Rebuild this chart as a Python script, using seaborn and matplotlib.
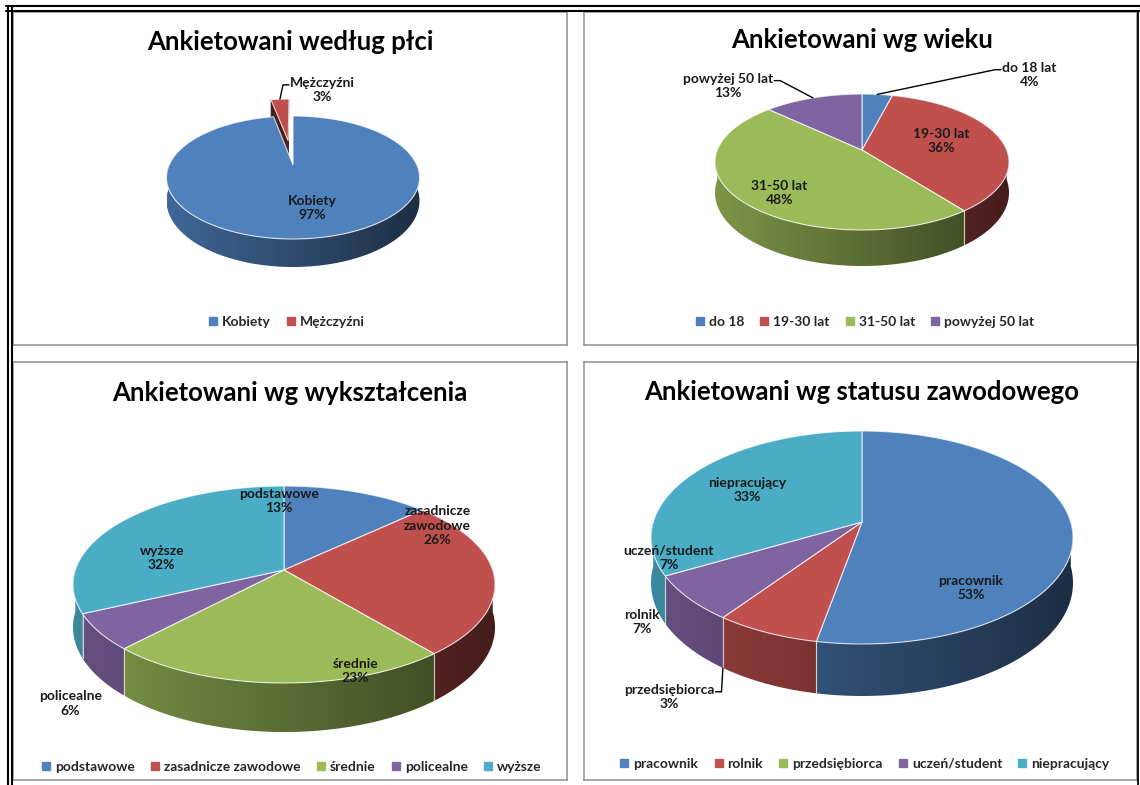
import numpy as np
import matplotlib
matplotlib.use("Agg")
import matplotlib.pyplot as plt
import seaborn as sns
from matplotlib.patches import Polygon
from matplotlib.lines import Line2D

# ---- data ----
gender_names = ["Kobiety", "Mężczyźni"]
gender_pct = [97, 3]

age_legend = ["do 18", "19-30 lat", "31-50 lat", "powyżej 50 lat"]
age_names = ["do 18 lat", "19-30 lat", "31-50 lat", "powyżej 50 lat"]
age_pct = [4, 36, 48, 13]

edu_names = ["podstawowe", "zasadnicze zawodowe", "średnie", "policealne", "wyższe"]
edu_pct = [13, 26, 23, 6, 32]

status_names = ["pracownik", "rolnik", "przedsiębiorca", "uczeń/student", "niepracujący"]
status_pct = [53, 7, 3, 7, 33]        # printed on the labels
status_slices = [53, 7, 0, 7, 33]     # slice widths as drawn (no green wedge visible)

sns.set_theme(style="white")
plt.rcParams["font.family"] = ["Lato", "DejaVu Sans"]

pal = sns.color_palette(["#4F81BD", "#C0504D", "#9BBB59", "#8064A2", "#4BACC6"])

W, H = 1140, 785
fig = plt.figure(figsize=(W / 100, H / 100), dpi=100)
fig.patch.set_facecolor("white")


def panel(box):
    x0, y0, x1, y1 = box
    ax = fig.add_axes([x0 / W, 1 - y1 / H, (x1 - x0) / W, (y1 - y0) / H])
    ax.set_xlim(x0, x1)
    ax.set_ylim(y1, y0)
    ax.autoscale(False)
    ax.set_xticks([])
    ax.set_yticks([])
    for s in ax.spines.values():
        s.set_color("#8f8f8f")
        s.set_linewidth(1.1)
    return ax


def shade(c, f):
    return tuple(np.clip(np.array(c[:3]) * f, 0, 1))


def pie3d(ax, values, colors, cx, cy, rx, back, front, depth, explode=None,
          names=None, pct=None, lab_r=None, lab_off=None, leaders=()):
    p = (front - back) / (front + back)
    k = 2 * front * back / (front + back)
    rx0 = rx * np.sqrt(1 - p * p)
    dz = depth * (1 - p)

    def proj(X, Y, Z=0.0):
        s = 1 / (1 + p * Y)
        return cx + rx0 * X * s, cy - (k * Y + dz * Z) * s

    vals = np.asarray(values, float)
    bounds = 90 - 360 * np.concatenate([[0], np.cumsum(vals)]) / vals.sum()
    if explode is None:
        explode = [0] * len(vals)
    grad = np.linspace(0.80, 0.36, 200)
    mids = []
    for i, col in enumerate(colors):
        a1, a2 = bounds[i], bounds[i + 1]
        mid = (a1 + a2) / 2
        mids.append(mid)
        if a1 == a2:
            continue
        e = explode[i]
        ox, oy = e * np.cos(np.radians(mid)), e * np.sin(np.radians(mid))
        # cut faces of an exploded slice
        if e > 0:
            for a in (a1, a2):
                ca, sa = np.cos(np.radians(a)), np.sin(np.radians(a))
                quad = [proj(ox, oy, 0), proj(ox + ca, oy + sa, 0),
                        proj(ox + ca, oy + sa, -1), proj(ox, oy, -1)]
                ax.add_patch(Polygon(quad, closed=True, fc=shade(col, 0.38),
                                     ec=shade(col, 0.38), lw=0.3, zorder=1))
        # front wall filled with a left-to-right gradient
        lo, hi = max(a2, -180), min(a1, 0)
        if lo < hi:
            ts = np.radians(np.linspace(lo, hi, 120))
            top = [proj(ox + np.cos(t), oy + np.sin(t), 0) for t in ts]
            bot = [proj(ox + np.cos(t), oy + np.sin(t), -1) for t in ts[::-1]]
            wall = Polygon(top + bot, closed=True, fc="none", ec="none", zorder=2)
            ax.add_patch(wall)
            img = np.array([[shade(col, f) for f in grad]])
            im = ax.imshow(img, extent=[cx - rx, cx + rx, cy + front + depth + 5, cy - 5],
                           aspect="auto", interpolation="bilinear", zorder=2)
            im.set_clip_path(wall)
            # slice seams on the wall
            for a in (a1, a2):
                if -180 < a < 0:
                    ca, sa = np.cos(np.radians(a)), np.sin(np.radians(a))
                    xs, ys = zip(proj(ca, sa, 0), proj(ca, sa, -1))
                    ax.plot(xs, ys, color=(1, 1, 1, 0.45), lw=0.8, zorder=2.5)
        # top face
        ts = np.linspace(a1, a2, max(3, int(abs(a1 - a2)) + 2))
        pts = [proj(ox, oy)] + [proj(ox + np.cos(np.radians(t)),
                                     oy + np.sin(np.radians(t))) for t in ts]
        ax.add_patch(Polygon(pts, closed=True, fc=col, ec=(1, 1, 1, 0.75),
                             lw=0.8, zorder=3))

    texts = []
    for i, nm in enumerate(names):
        a = np.radians(mids[i] + lab_off[i])
        lx, ly = proj(lab_r[i] * np.cos(a), lab_r[i] * np.sin(a))
        t = ax.text(lx, ly, f"{nm}\n{pct[i]}%", ha="center", va="center",
                    fontsize=10, fontweight="bold", color="#1a1a1a",
                    linespacing=1.25, zorder=5)
        texts.append(t)

    out = []
    for i, z in leaders:
        e = explode[i]
        m = np.radians(mids[i])
        ox, oy = e * np.cos(m), e * np.sin(m)
        out.append((texts[i], proj(ox + np.cos(m), oy + np.sin(m), z)))
    return out


boxes = {"tl": (13, 12, 567, 345), "tr": (584, 12, 1137, 345),
         "bl": (13, 362, 567, 780), "br": (584, 362, 1137, 780)}
axes = {key: panel(b) for key, b in boxes.items()}

titles = {"tl": ("Ankietowani według płci", 290, 42),
          "tr": ("Ankietowani wg wieku", 862, 40),
          "bl": ("Ankietowani wg wykształcenia", 290, 393),
          "br": ("Ankietowani wg statusu zawodowego", 862, 392)}
for key, (txt, x, y) in titles.items():
    axes[key].text(x, y, txt, ha="center", va="center", fontsize=18.5,
                   fontweight="bold", color="black")

leader_list = []
leader_list += pie3d(axes["tl"], gender_pct, pal[:2], 293, 165, 126.5, 49, 74, 28,
                     explode=[0, 0.45], names=gender_names, pct=gender_pct,
                     lab_r=[0.65, 1.74], lab_off=[6.5, -16], leaders=[(1, 0)])
leader_list += pie3d(axes["tr"], age_pct, pal[:4], 862, 150, 147, 56, 80, 36,
                     names=age_names, pct=age_pct,
                     lab_r=[2.03, 0.58, 0.78, 1.62], lab_off=[-38.3, 2.3, 7, 20.4],
                     leaders=[(0, 0), (3, 0)])
edu_text = ["podstawowe", "zasadnicze\nzawodowe", "średnie", "policealne", "wyższe"]
pie3d(axes["bl"], edu_pct, pal, 284, 570, 211, 84, 113, 49,
      names=edu_text, pct=edu_pct,
      lab_r=[0.8, 0.93, 0.955, 1.43, 0.61], lab_off=[25.4, 35.5, 19.8, 17.5, 20.4])
leader_list += pie3d(axes["br"], status_slices, pal, 862, 522, 211, 91, 122, 52,
                     names=status_names, pct=status_pct,
                     lab_r=[0.75, 1.25, 1.54, 0.94, 0.66],
                     lab_off=[-45.1, -24.3, 7.2, -21, 1.5], leaders=[(2, -1)])

legends = {"tl": (gender_names, 2, 287, 322), "tr": (age_legend, 4, 865, 322),
           "bl": (edu_names, 5, 292, 767), "br": (status_names, 5, 865, 764)}
for key, (names, n, x, y) in legends.items():
    handles = [Line2D([], [], marker="s", linestyle="", color=pal[i], markersize=5.5)
               for i in range(n)]
    axes[key].legend(handles, names, loc="center", bbox_to_anchor=(x, y),
                     bbox_transform=axes[key].transData, ncol=n, frameon=False,
                     handlelength=0.6, handletextpad=0.35, columnspacing=1.15,
                     prop={"size": 10, "weight": "bold"}, borderpad=0)

# leader lines hooked onto the label boxes
fig.canvas.draw()
renderer = fig.canvas.get_renderer()
for t, (sx, sy) in leader_list:
    ax = t.axes
    bb = t.get_window_extent(renderer).transformed(ax.transData.inverted())
    x0, x1 = min(bb.x0, bb.x1), max(bb.x0, bb.x1)
    y_top = min(bb.y0, bb.y1)
    hgt = abs(bb.y1 - bb.y0)
    lx = (x0 + x1) / 2
    side = 1 if lx > sx else -1
    edge = x0 - 1 if side > 0 else x1 + 1
    y1 = y_top + 0.3 * hgt
    ax.plot([sx, edge - side * 6, edge], [sy, y1, y1], color="black", lw=1, zorder=4)

# outer double frame
over = fig.add_axes([0, 0, 1, 1], facecolor="none")
over.set_xlim(0, W)
over.set_ylim(H, 0)
over.axis("off")
for y in (6, 10.5):
    over.plot([6, W], [y, y], color="black", lw=1.5)
for x in (7.5, 11.5):
    over.plot([x, x], [6, H], color="black", lw=1.5)
over.plot([1138, 1138], [10.5, H], color="black", lw=1.3)

fig.savefig("out.png", dpi=100)
